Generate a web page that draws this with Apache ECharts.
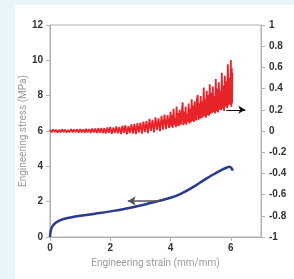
<!DOCTYPE html>
<html>
<head>
<meta charset="utf-8">
<script src="https://cdn.jsdelivr.net/npm/echarts@6/dist/echarts.min.js"></script>
<style>
html, body { margin: 0; padding: 0; background: #eaf4fb; }
.panel { position: absolute; left: 15px; top: 5px; width: 279px; height: 274px; background: #fff; }
#chart { position: absolute; left: 0; top: 0; width: 294px; height: 279px; }
</style>
</head>
<body>
<div class="panel"></div>
<div id="chart"></div>
<script>
// stress-strain curve (left axis, MPa)
const stressPoints = [
  [0, 0], [0.02, 0.3], [0.05, 0.5], [0.1, 0.65], [0.2, 0.82], [0.3, 0.92],
  [0.45, 1.02], [0.72, 1.12], [1.0, 1.2], [1.5, 1.32], [2.0, 1.45], [2.5, 1.6],
  [3.0, 1.78], [3.5, 2.0], [4.0, 2.22], [4.4, 2.5], [4.8, 2.88], [5.2, 3.32],
  [5.5, 3.62], [5.7, 3.8], [5.85, 3.92], [5.95, 3.97], [6.02, 3.9], [6.06, 3.75]
];
// noisy ratio signal (right axis)
const ratioPoints = [
  [0.00, 0.010], [0.05, -0.012], [0.10, 0.014], [0.15, -0.010], [0.20, 0.012],
  [0.25, -0.014], [0.30, 0.011], [0.35, -0.012], [0.40, 0.016], [0.45, -0.010],
  [0.50, 0.013], [0.55, -0.015], [0.60, 0.010], [0.65, -0.011], [0.70, 0.017],
  [0.75, -0.013], [0.80, 0.014], [0.85, -0.010], [0.90, 0.016], [0.95, -0.015],
  [1.00, 0.018], [1.05, -0.012], [1.10, 0.015], [1.15, -0.016], [1.20, 0.020],
  [1.25, -0.013], [1.30, 0.017], [1.35, -0.018], [1.40, 0.024], [1.45, -0.014],
  [1.50, 0.022], [1.55, -0.019], [1.60, 0.026], [1.65, -0.016], [1.70, 0.029],
  [1.75, -0.020], [1.80, 0.025], [1.85, -0.024], [1.90, 0.034], [1.95, -0.016],
  [2.00, 0.038], [2.05, -0.026], [2.10, 0.032], [2.15, -0.019], [2.20, 0.044],
  [2.25, -0.022], [2.30, 0.039], [2.35, -0.029], [2.40, 0.049], [2.45, -0.016],
  [2.50, 0.054], [2.55, -0.032], [2.60, 0.046], [2.65, -0.019], [2.70, 0.062],
  [2.75, -0.024], [2.80, 0.066], [2.85, -0.030], [2.90, 0.074], [2.95, -0.014],
  [3.00, 0.079], [3.05, -0.025], [3.10, 0.089], [3.15, -0.010], [3.20, 0.094],
  [3.25, -0.020], [3.30, 0.114], [3.35, 0.000], [3.40, 0.104], [3.45, -0.014],
  [3.50, 0.129], [3.55, 0.008], [3.60, 0.119], [3.65, -0.002], [3.70, 0.144],
  [3.75, 0.013], [3.80, 0.154], [3.85, 0.018], [3.90, 0.149], [3.95, 0.028],
  [4.000, 0.180], [4.025, 0.040], [4.050, 0.150], [4.075, 0.030], [4.100, 0.210],
  [4.125, 0.060], [4.150, 0.120], [4.175, 0.035], [4.200, 0.230], [4.225, 0.050],
  [4.250, 0.170], [4.275, 0.045], [4.300, 0.200], [4.325, 0.090], [4.350, 0.060],
  [4.375, 0.190], [4.400, 0.270], [4.425, 0.055], [4.450, 0.180], [4.475, 0.070],
  [4.500, 0.230], [4.525, 0.060], [4.550, 0.160], [4.575, 0.085], [4.600, 0.260],
  [4.625, 0.070], [4.650, 0.210], [4.675, 0.080], [4.700, 0.300], [4.725, 0.095],
  [4.750, 0.240], [4.775, 0.085], [4.800, 0.280], [4.825, 0.120], [4.850, 0.100],
  [4.875, 0.300], [4.900, 0.340], [4.925, 0.105], [4.950, 0.260], [4.975, 0.115],
  [5.000, 0.330], [5.025, 0.120], [5.050, 0.280], [5.075, 0.130], [5.100, 0.410],
  [5.125, 0.140], [5.150, 0.300], [5.175, 0.125], [5.200, 0.380], [5.225, 0.150],
  [5.250, 0.340], [5.275, 0.145], [5.300, 0.440], [5.325, 0.160], [5.350, 0.360],
  [5.375, 0.170], [5.400, 0.420], [5.425, 0.180], [5.450, 0.330], [5.475, 0.165],
  [5.500, 0.490], [5.525, 0.185], [5.550, 0.400], [5.575, 0.175], [5.600, 0.460],
  [5.625, 0.200], [5.650, 0.380], [5.675, 0.195], [5.700, 0.550], [5.725, 0.210],
  [5.750, 0.430], [5.775, 0.190], [5.800, 0.520], [5.825, 0.230], [5.850, 0.470],
  [5.875, 0.215], [5.900, 0.630], [5.925, 0.240], [5.950, 0.500], [5.975, 0.250],
  [6.000, 0.670], [6.015, 0.230], [6.030, 0.600], [6.040, 0.260], [6.050, 0.550]
];
// arrow annotations (data coords)
const leftArrow = [[3.64, 2.04], [2.58, 2.04]];
const rightArrow = [[5.85, 0.2], [6.48, 0.2]];

const axisColor = '#b0b0b0';
const tickLabel = { color: '#333', fontSize: 10, fontWeight: 'bold', fontFamily: 'Liberation Sans' };
const nameStyle = { color: '#9a9a9a', fontSize: 10, fontFamily: 'Roboto' };

const chart = echarts.init(document.getElementById('chart'));
chart.setOption({
  animation: false,
  backgroundColor: 'transparent',
  grid: { left: 50, top: 25, right: 33, bottom: 42, show: true, borderColor: axisColor, borderWidth: 1 },
  xAxis: {
    type: 'value', min: 0, max: 7, interval: 2,
    name: 'Engineering strain (mm/mm)', nameLocation: 'middle', nameGap: 21, nameTextStyle: nameStyle,
    axisLine: { lineStyle: { color: axisColor } },
    axisTick: { length: 4, lineStyle: { color: axisColor } },
    axisLabel: Object.assign({ margin: 6, showMaxLabel: false }, tickLabel),
    splitLine: { show: false }
  },
  yAxis: [
    {
      type: 'value', min: 0, max: 12, interval: 2,
      name: 'Engineering stress (MPa)', nameLocation: 'middle', nameGap: 22, nameMoveOverlap: false,
      nameTextStyle: nameStyle,
      axisLine: { show: true, lineStyle: { color: axisColor } },
      axisTick: { show: true, length: 4, lineStyle: { color: axisColor } },
      axisLabel: Object.assign({ margin: 7 }, tickLabel),
      splitLine: { show: false }
    },
    {
      type: 'value', min: -1, max: 1, interval: 0.2, position: 'right',
      axisLine: { show: true, lineStyle: { color: axisColor } },
      axisTick: { show: true, length: 4, lineStyle: { color: axisColor } },
      axisLabel: Object.assign({ margin: 8, align: 'left' }, tickLabel),
      splitLine: { show: false }
    }
  ],
  series: [
    {
      type: 'line', yAxisIndex: 1, data: ratioPoints, showSymbol: false,
      lineStyle: { color: '#e8242a', width: 1.8, join: 'bevel' },
      markLine: {
        silent: true, symbol: ['none', 'arrow'], symbolSize: [6, 7],
        label: { show: false },
        lineStyle: { color: '#111', width: 1, type: 'solid' },
        data: [[{ coord: rightArrow[0] }, { coord: rightArrow[1] }]]
      }
    },
    {
      type: 'line', yAxisIndex: 0, data: stressPoints, showSymbol: false, smooth: true,
      lineStyle: { color: '#2a3a8f', width: 2.5 },
      markLine: {
        silent: true, symbol: ['none', 'arrow'], symbolSize: [7, 8],
        label: { show: false },
        lineStyle: { color: '#555', width: 1.5, type: 'solid' },
        data: [[{ coord: leftArrow[0] }, { coord: leftArrow[1] }]]
      }
    }
  ]
});
</script>
</body>
</html>
